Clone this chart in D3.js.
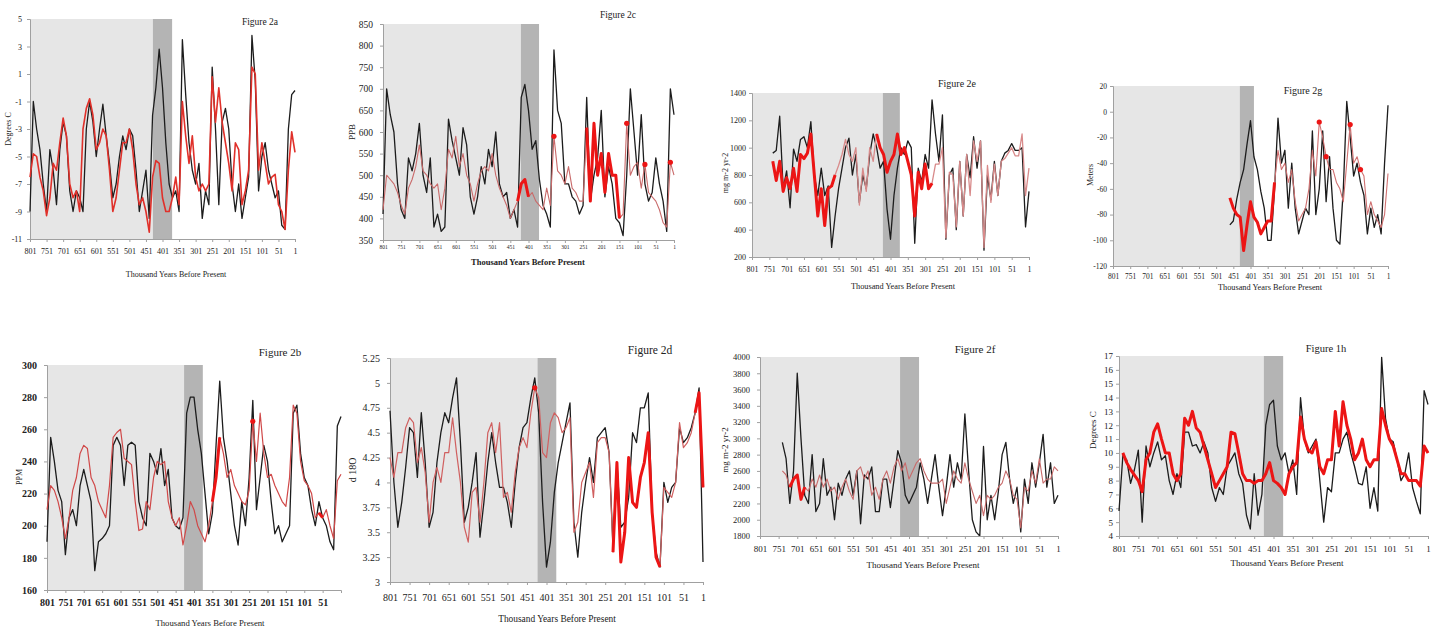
<!DOCTYPE html>
<html><head><meta charset="utf-8">
<script src="https://cdn.jsdelivr.net/npm/d3@7"></script>
<style>body{margin:0;background:#fff}svg{display:block}text{font-family:"Liberation Serif","Times New Roman",serif}</style>
</head><body><svg id="c" width="1436" height="629"></svg>
<script>
// ---------- DATA ----------
const ages = [801,791,781,771,761,751,741,731,721,711,
701,691,681,671,661,651,641,631,621,611,
601,591,581,571,561,551,541,531,521,511,
501,491,481,471,461,451,441,431,421,411,
401,391,381,371,361,351,341,331,321,311,
301,291,281,271,261,251,241,231,221,211,
201,191,181,171,161,151,141,131,121,111,
101,91,81,71,61,51,41,31,21,11,1];
const xTickLabels = [801,751,701,651,601,551,501,451,401,351,301,251,201,151,101,51,1];
const xTickLabelsB = [801,751,701,651,601,551,501,451,401,351,301,251,201,151,101,51];

// Figure 2a (Degrees C)
const a_black = [-9,-1,-3,-4.5,-7,-9,-4.5,-6,-8.5,-4.5,
-2.5,-3.5,-7.5,-9,-7.5,-8,-9,-3,-1,-2.5,
-5,-3,-1.2,-3.5,-5.5,-8,-7,-5,-3.5,-4.5,
-3,-3.5,-6,-9,-7.5,-6,-9.5,-2,0,2.8,
0,-4,-7,-8,-7.5,-9,3.5,-0.5,-4,-6,
-7,-5.5,-9.5,-7.5,-8.5,1.5,-3,-8.5,-2.5,-1.5,
-3,-7,-9,-7,-9.5,-8,-6.5,3.8,0.5,-7.5,
-5,-4,-6,-7,-8,-7.5,-10,-10.3,-3,-0.5,-0.2];
const a_red = [-6.5,-4.8,-5,-6.5,-7.5,-9.3,-8,-5.5,-6,-4,
-2.2,-3.5,-7,-8,-7.5,-9,-3,-1.5,-0.8,-2,
-4.5,-4,-3,-3.5,-6,-9,-8,-6,-4,-4,
-3,-4.5,-7,-8.5,-8,-9,-10.5,-6.5,-5.3,-5.5,
-8,-9,-9,-8,-6.5,-8.5,-1,-3.5,-5.5,-3.5,
-6.5,-7.5,-7,-7.5,-7,0.8,-2.5,0,-2.5,-4,
-5.5,-7.5,-4,-4.5,-8.5,-7.5,-6,1.5,1,-6,
-4,-5.5,-7,-6.5,-6.3,-8.5,-9,-10.3,-6,-3.2,-4.7];
const a_bold = [];
const a_yTicks = [5,3,1,-1,-3,-5,-7,-9,-11];
const a_dark = [430,372];

// Figure 2c (PPB)
const c_black = [410,700,640,600,480,420,400,540,510,550,
620,500,460,540,380,410,370,380,630,580,
540,500,610,570,450,410,450,520,480,560,
520,600,480,450,460,400,420,380,680,710,
650,560,580,490,430,410,380,790,650,620,
480,480,450,440,410,430,680,440,500,540,
650,450,520,480,400,390,360,500,700,600,
500,640,480,440,460,540,480,440,370,700,640];
const c_red = [420,500,490,480,460,430,410,470,490,520,
570,510,500,480,470,480,420,470,560,540,
590,520,550,500,480,440,480,510,520,510,
550,500,470,450,430,400,420,440,480,490,
450,460,440,430,420,470,430,590,510,500,
480,520,470,460,440,440,610,440,620,500,
550,460,550,500,500,400,410,620,500,520,
530,470,525,460,450,440,420,390,380,530,500];
const c_bold = [[431,401],[336,326],[246,146],[136,126],[86,76],[16,6]];
const c_yTicks = [850,800,750,700,650,600,550,500,450,400,350];
const c_dark = [422,372];

// Figure 2e (mg m-2 yr-2)
const e_black = [null,null,null,null,null,null,960,980,1230,700,
830,560,990,900,1060,1080,1000,1190,800,650,
850,650,720,270,500,700,850,1000,1070,800,
950,600,800,700,950,1100,1000,850,900,550,
330,650,850,1000,950,1050,1000,300,850,750,
950,850,1350,1100,900,1240,330,800,850,400,
900,500,950,780,1080,850,1050,250,800,620,
900,650,900,960,980,1030,980,980,1000,420,680];
const e_red = [null,null,null,null,null,null,900,760,900,680,
780,700,850,680,950,920,960,1100,800,500,
700,430,700,720,800,870,950,1060,950,900,
1000,580,850,680,1000,900,1100,1000,950,820,
900,950,1100,950,1000,900,800,500,820,700,
880,700,740,880,880,1000,340,820,800,420,
900,500,950,650,1050,900,1050,270,870,600,
880,650,900,920,960,1000,940,940,1100,650,850];
const e_bold = [[741,561],[441,281]];
const e_yTicks = [1400,1200,1000,800,600,400,200];
const e_dark = [423,374];

// Figure 2g (Meters)
const g_black = [null,null,null,null,null,null,null,null,null,null,
null,null,null,null,null,null,null,null,null,null,
null,null,null,null,null,null,null,null,null,null,
null,null,null,null,-88,-85,-68,-55,-45,-25,
-7,-35,-45,-62,-75,-100,-100,-60,-5,-40,
-30,-75,-40,-75,-95,-85,-75,-80,-15,-80,
-60,-15,-70,-35,-75,-100,-103,-60,8,-20,
-50,-40,-55,-65,-95,-75,-90,-80,-95,-40,5];
const g_red = [null,null,null,null,null,null,null,null,null,null,
null,null,null,null,null,null,null,null,null,null,
null,null,null,null,null,null,null,null,null,null,
null,null,null,null,-67,-75,-80,-82,-108,-88,
-70,-82,-86,-95,-90,-85,-85,-55,-30,-45,
-40,-55,-45,-70,-85,-80,-75,-60,-30,-50,
-8,-20,-35,-45,-45,-55,-60,-70,-40,-10,
-40,-35,-45,-50,-80,-70,-80,-85,-90,-80,-48];
const g_bold = [[461,331],[204,198],[184,178],[114,108],[86,76]];
const g_yTicks = [20,0,-20,-40,-60,-80,-100,-120];
const g_dark = [432,391];

// Figure 2b (PPM)
const b_black = [190,255,240,222,215,182,205,210,200,225,
235,225,215,172,190,192,195,200,250,255,
250,225,250,252,250,215,205,200,245,240,
232,248,225,235,205,200,198,205,270,280,
280,260,245,220,195,208,250,290,255,240,
220,200,188,215,200,230,278,210,230,250,
240,215,195,200,190,195,200,270,275,245,
230,225,210,200,215,205,200,190,185,262,268];
const b_red = [210,225,222,215,205,192,205,222,230,245,
250,248,230,225,215,210,205,225,255,258,
260,242,240,238,215,197,198,215,210,230,
240,238,240,215,205,200,205,188,200,215,
210,200,195,190,200,215,230,255,245,230,
235,225,220,215,213,222,265,240,270,245,
230,232,225,220,215,212,230,275,270,240,
228,225,220,205,208,205,210,200,192,228,232];
const b_bold = [[351,331],[249,239],[61,51]];
const b_yTicks = [300,280,260,240,220,200,180,160];
const b_dark = [428,377];

// Figure 2d (d 18O)
const d_black = [4.72,4.0,3.55,3.8,4.15,4.55,4.5,4.05,4.7,4.2,
3.55,3.7,4.2,4.5,4.7,4.6,4.85,5.05,4.4,3.6,
3.75,4.0,4.3,3.45,3.8,4.2,4.5,4.2,3.95,3.95,
3.8,3.55,4.0,4.35,4.55,4.6,4.85,5.05,4.7,3.8,
3.15,3.4,3.9,4.2,4.4,4.6,4.8,3.6,3.25,3.7,
4.0,4.25,4.0,4.45,4.5,4.55,4.3,3.35,4.2,3.55,
3.6,3.85,4.5,4.4,4.75,4.75,4.9,3.7,3.3,3.15,
4.0,3.8,3.95,4.0,4.55,4.4,4.45,4.55,4.7,4.95,3.2];
const d_red = [4.25,4.05,4.3,4.3,4.55,4.65,4.6,4.2,4.35,4.1,
3.6,4.0,4.15,4.0,4.3,4.3,4.65,4.3,4.0,3.55,
3.4,3.9,3.95,3.6,4.0,4.5,4.6,4.3,4.6,3.85,
3.9,3.7,4.1,4.35,4.45,4.35,4.7,4.95,4.85,4.3,
4.25,4.6,4.7,4.65,4.5,4.55,4.65,3.5,3.6,4.0,
4.1,4.2,3.85,4.4,4.45,4.45,4.3,3.3,4.2,3.2,
3.5,4.25,3.8,3.75,4.05,4.2,4.5,3.7,3.25,3.15,
3.95,3.9,3.85,4.0,4.6,4.35,4.4,4.5,4.7,4.9,3.95];
const d_bold = [[436,426],[231,111],[21,1]];
const d_yTicks = [5.25,5,4.75,4.5,4.25,4,3.75,3.5,3.25,3];
const d_dark = [424,376];

// Figure 2f (mg m-2 yr-2)
const f_black = [null,null,null,null,null,null,2950,2750,2200,2600,
3800,3000,2300,2200,2800,2100,2200,2750,2300,2400,
2000,2450,2300,2500,2600,2300,2600,1950,2550,2500,
2650,2100,2100,2500,2500,2150,2500,2850,2700,2300,
2200,2300,2400,2700,2500,2200,2500,2800,2400,2050,
2400,2800,2400,2700,2500,3300,2600,2000,1850,1800,
2900,2000,2300,2000,2350,2800,2950,2500,2200,2400,
1850,2500,2200,2700,2400,2700,3050,2400,2700,2200,2300];
const f_red = [null,null,null,null,null,null,2600,2550,2400,2500,
2550,2250,2400,2350,2500,2400,2550,2400,2500,2350,
2400,2250,2400,2500,2350,2250,2600,2650,2500,2600,
2300,2400,2250,2500,2600,2450,2650,2750,2600,2700,
2500,2600,2700,2750,2600,2500,2450,2450,2450,2500,
2200,2400,2600,2500,2450,2700,2500,2350,2200,2300,
2050,2300,2250,2300,2400,2450,2600,2500,2300,2250,
1900,2400,2350,2600,2450,2750,2450,2500,2500,2650,2600];
const f_bold = [[721,681]];
const f_yTicks = [4000,3800,3600,3400,3200,3000,2800,2600,2400,2200,2000,1800];
const f_dark = [425,374];

// Figure 1h (Degrees C)
const h_black = [5.8,9.8,9.5,7.8,8.8,10.2,5.0,10.5,9.0,10.0,
10.8,9.5,9.8,8.0,7.0,8.5,7.5,11.5,11.5,10.5,
10.6,10.0,10.8,10.0,7.5,6.5,7.5,7.0,9.0,9.5,
10.0,8.5,7.8,5.5,4.5,8.5,5.5,7.0,12.0,13.5,
13.8,10.5,9.5,10.0,8.5,9.5,7.0,14.0,11.0,10.0,
10.5,11.0,8.0,5.0,7.5,7.2,10.0,10.0,11.0,11.5,
10.0,9.0,7.8,7.7,9.0,6.0,7.5,5.8,16.9,12.5,
11.0,10.8,9.5,8.0,8.5,10.0,7.5,6.5,5.6,14.5,13.5];
const h_red = [null,10.0,9.3,8.8,8.4,8.0,7.2,9.5,10.0,11.5,
12.1,11.0,10.0,10.0,8.5,8.0,8.5,12.5,12.0,13.0,
11.8,11.5,10.5,9.5,8.5,7.5,8.0,8.5,9.0,11.5,
11.4,10.0,8.5,8.0,8.0,7.8,8.0,8.0,8.5,9.3,
8.0,7.8,7.5,7.0,8.5,9.0,9.3,12.6,11.0,10.2,
10.0,10.8,9.0,8.5,9.5,9.5,13.0,10.5,13.7,12.0,
11.0,9.5,10.0,11.0,9.5,9.0,9.5,9.5,13.2,12.0,
11.0,10.5,9.5,8.5,8.5,8.0,8.0,8.0,7.6,10.5,10.0];
const h_bold = [[801,1]];
const h_yTicks = [17,16,15,14,13,12,11,10,9,8,7,6,5,4];
const h_dark = [426,376];

const xTitle = "Thousand Years Before Present";

// ---------- LAYOUT ----------
const panels = [
 {title:"Figure 2a", tx:260, ty:22, tfs:9.5, ylab:"Degrees C", ylx:8, yly:129, ylfs:8,
  xlx:176, xly:274, xlfs:8, x0:30, x1:295, yT:19, yB:239, yfs:8, xfs:8, xPad:6, yPad:5,
  xt:xTickLabels, yt:a_yTicks, black:a_black, red:a_red, bold:a_bold, dark:a_dark, thin:"#e0302a", thinW:1.6},
 {title:"Figure 2c", tx:618, ty:15, tfs:9.5, ylab:"PPB", ylx:352, yly:132, ylfs:9,
  xlx:528, xly:262, xlfs:8.5, xlBold:true, x0:383, x1:674, yT:24, yB:240, yfs:9.5, xfs:5.5, xPad:2, yPad:7,
  xt:xTickLabels, yt:c_yTicks, black:c_black, red:c_red, bold:c_bold, dark:c_dark, thin:"#c96a6a", thinW:1.1},
 {title:"Figure 2e", tx:957, ty:83, tfs:10, ylab:"mg m-2 yr-2", ylx:725, yly:173, ylfs:8,
  xlx:903, xly:286, xlfs:8.3, x0:752, x1:1029, yT:93, yB:257, yfs:8, xfs:8, xPad:6, yPad:3,
  xt:xTickLabels, yt:e_yTicks, black:e_black, red:e_red, bold:e_bold, dark:e_dark, thin:"#d88a8a", thinW:1.3},
 {title:"Figure 2g", tx:1303, ty:90, tfs:10, ylab:"Meters", ylx:1090, yly:175, ylfs:8,
  xlx:1270, xly:287, xlfs:8.3, x0:1113, x1:1388, yT:86, yB:266, yfs:7.5, xfs:7.5, xPad:5, yPad:3,
  xt:xTickLabels, yt:g_yTicks, black:g_black, red:g_red, bold:g_bold, dark:g_dark, thin:"#d07070", thinW:1.1},
 {title:"Figure 2b", tx:280, ty:352, tfs:11, ylab:"PPM", ylx:19, yly:477, ylfs:8,
  xlx:210, xly:623, xlfs:8.7, x0:47, x1:341, yT:365, yB:590, yfs:10, xfs:10, tickBold:true, xPad:6, yPad:7,
  xt:xTickLabelsB, yt:b_yTicks, black:b_black, red:b_red, bold:b_bold, dark:b_dark, thin:"#d04848", thinW:1.2},
 {title:"Figure 2d", tx:650, ty:350, tfs:11.5, ylab:"d 18O", ylx:352, yly:470, ylfs:10,
  xlx:557, xly:619, xlfs:9.4, x0:390, x1:703, yT:358, yB:582, yfs:10, xfs:10, xPad:9, yPad:7,
  xt:xTickLabels, yt:d_yTicks, black:d_black, red:d_red, bold:d_bold, dark:d_dark, thin:"#d06060", thinW:1.2},
 {title:"Figure 2f", tx:975, ty:349, tfs:11, ylab:"mg m-2 yr-2", ylx:725, yly:450, ylfs:9,
  xlx:923, xly:565, xlfs:9, x0:760, x1:1058, yT:357, yB:536, yfs:8.5, xfs:9, xPad:6.5, yPad:7,
  xt:xTickLabels, yt:f_yTicks, black:f_black, red:f_red, bold:f_bold, dark:f_dark, thin:"#c86a6a", thinW:1.1},
 {title:"Figure 1h", tx:1326, ty:348, tfs:10.5, ylab:"Degrees C", ylx:1093, yly:430, ylfs:9,
  xlx:1287, xly:563, xlfs:9, x0:1119, x1:1428, yT:356, yB:536, yfs:9, xfs:9, xPad:6.5, yPad:3,
  xt:xTickLabels, yt:h_yTicks, black:h_black, red:h_red, bold:h_bold, dark:h_dark, thin:"#ee1c1c", thinW:1.5}
];

// ---------- DRAW ----------
const svg = d3.select("#c");
panels.forEach(p => {
  const x = d3.scaleLinear().domain([801, 1]).range([p.x0, p.x1]);
  const y = d3.scaleLinear().domain([d3.min(p.yt), d3.max(p.yt)]).range([p.yB, p.yT]);
  const g = svg.append("g");

  // shaded periods
  g.append("rect").attr("x", x(801)).attr("y", p.yT).attr("width", x(p.dark[0]) - x(801))
    .attr("height", p.yB - p.yT).attr("fill", "#e6e6e6");
  g.append("rect").attr("x", x(p.dark[0])).attr("y", p.yT).attr("width", x(p.dark[1]) - x(p.dark[0]))
    .attr("height", p.yB - p.yT).attr("fill", "#b4b4b4");

  // axes
  const ya = g.append("g").attr("transform", `translate(${p.x0},0)`)
    .call(d3.axisLeft(y).tickValues(p.yt).tickSize(3).tickPadding(p.yPad).tickFormat(d => String(d)));
  const xa = g.append("g").attr("transform", `translate(0,${p.yB})`)
    .call(d3.axisBottom(x).tickValues(p.xt).tickSize(3).tickPadding(p.xPad).tickFormat(d => String(d)));
  [ya, xa].forEach(a => {
    a.attr("font-family", null).attr("font-size", null);
    a.select(".domain").attr("stroke", "#a0a0a0");
    a.selectAll(".tick line").attr("stroke", "#a0a0a0");
    a.selectAll("text").attr("fill", "#222").attr("font-weight", p.tickBold ? "bold" : "normal");
  });
  ya.selectAll("text").attr("font-size", p.yfs);
  xa.selectAll("text").attr("font-size", p.xfs);

  // series
  const line = d3.line().defined(d => d[1] != null).x(d => x(d[0])).y(d => y(d[1]));
  const blackPts = ages.map((a, i) => [a, p.black[i]]);
  const redPts = ages.map((a, i) => [a, p.red[i]]);
  const clipId = "clip" + p.title.replace(/\s/g, "");
  svg.append("clipPath").attr("id", clipId).append("rect")
    .attr("x", p.x0 - 2).attr("y", p.yT - 4).attr("width", p.x1 - p.x0 + 6).attr("height", p.yB - p.yT + 4);
  const lg = g.append("g").attr("clip-path", `url(#${clipId})`);
  lg.append("path").datum(blackPts).attr("d", line).attr("fill", "none")
    .attr("stroke", "#1c1c1c").attr("stroke-width", 1.3).attr("stroke-linejoin", "round");
  lg.append("path").datum(redPts).attr("d", line).attr("fill", "none")
    .attr("stroke", p.thin).attr("stroke-width", p.thinW).attr("stroke-linejoin", "round");
  p.bold.forEach(([hi, lo]) => {
    const seg = redPts.filter(d => d[0] <= hi && d[0] >= lo && d[1] != null);
    if (seg.length > 1) {
      lg.append("path").datum(seg).attr("d", line).attr("fill", "none")
        .attr("stroke", "#ec1515").attr("stroke-width", 3).attr("stroke-linejoin", "round");
    } else if (seg.length === 1) {
      lg.append("circle").attr("cx", x(seg[0][0])).attr("cy", y(seg[0][1])).attr("r", 2.6).attr("fill", "#ec1515");
    }
  });

  // titles
  g.append("text").attr("x", p.tx).attr("y", p.ty).attr("dy", "0.35em").attr("text-anchor", "middle")
    .attr("font-size", p.tfs).attr("fill", "#222").text(p.title);
  g.append("text").attr("x", p.xlx).attr("y", p.xly).attr("dy", "0.35em").attr("text-anchor", "middle")
    .attr("font-size", p.xlfs).attr("font-weight", p.xlBold ? "bold" : "normal").attr("fill", "#222").text(xTitle);
  g.append("text").attr("transform", `translate(${p.ylx},${p.yly}) rotate(-90)`).attr("dy", "0.35em")
    .attr("text-anchor", "middle").attr("font-size", p.ylfs).attr("fill", "#222").text(p.ylab);
});
</script></body></html>
